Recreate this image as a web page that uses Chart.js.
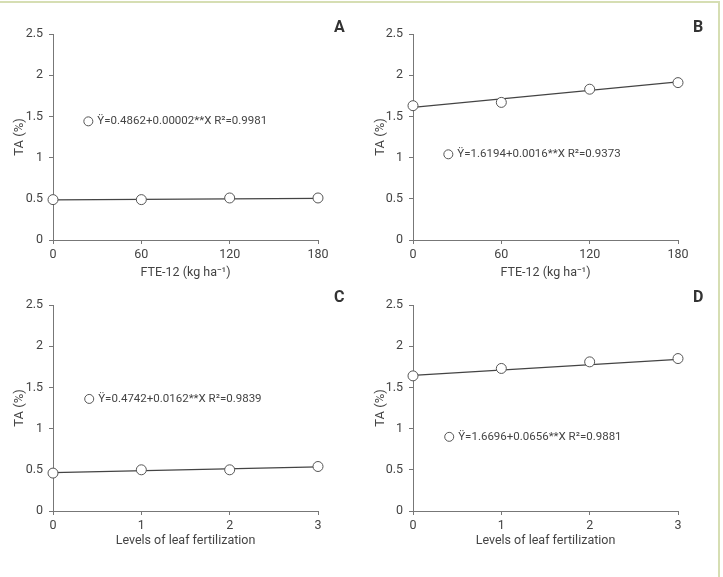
<!DOCTYPE html>
<html>
<head>
<meta charset="utf-8">
<script src="https://cdn.jsdelivr.net/npm/chart.js@4.4.0/dist/chart.umd.min.js"></script>
<style>
  body { margin: 0; background: #fff; }
  #wrap { position: relative; width: 723px; height: 577px; overflow: hidden; }
  #frame { position: absolute; left: -4px; top: 1px; width: 724px; height: 580px;
           border-top: 2px solid #d6deb3; border-right: 2px solid #d6deb3; box-sizing: border-box; }
  canvas { position: absolute; }
  .tag { position: absolute; font: bold 16px Roboto, "Liberation Sans", sans-serif; color: #333; }
</style>
</head>
<body>
<div id="wrap">
  <div id="frame"></div>
  <canvas id="chartA" style="left:0;top:0"></canvas>
  <canvas id="chartB" style="left:361px;top:0"></canvas>
  <canvas id="chartC" style="left:0;top:290px"></canvas>
  <canvas id="chartD" style="left:361px;top:290px"></canvas>
  <div class="tag" style="left:334px;top:17px">A</div>
  <div class="tag" style="left:693px;top:17px">B</div>
  <div class="tag" style="left:334px;top:287px">C</div>
  <div class="tag" style="left:693px;top:287px">D</div>
</div>
<script>
// doses / levels on the x axis
var doseLevels = [0, 60, 120, 180];
var leafLevels = [0, 1, 2, 3];
var yTicks = [0, 0.5, 1, 1.5, 2, 2.5];

// titratable acidity, observed means
var taA = [0.49, 0.49, 0.51, 0.51];
var taB = [1.63, 1.67, 1.83, 1.91];
var taC = [0.46, 0.50, 0.50, 0.54];
var taD = [1.64, 1.73, 1.81, 1.85];

// fitted line, value at first and last x
var fitA = [0.487, 0.505];
var fitB = [1.61, 1.92];
var fitC = [0.465, 0.535];
var fitD = [1.645, 1.84];

var eqA = 'Ÿ=0.4862+0.00002**X R²=0.9981';
var eqB = 'Ÿ=1.6194+0.0016**X R²=0.9373';
var eqC = 'Ÿ=0.4742+0.0162**X R²=0.9839';
var eqD = 'Ÿ=1.6696+0.0656**X R²=0.9881';

var txt = '#444';
var fontFam = 'Roboto, "Liberation Sans", sans-serif';

// draws the little "o equation" note inside the plot
var eqNote = {
  id: 'eqNote',
  afterDatasetsDraw: function(chart, args, opts) {
    var c = chart.ctx;
    var x = chart.scales.x.getPixelForValue(opts.at[0]);
    var y = chart.scales.y.getPixelForValue(opts.at[1]);
    c.save();
    c.beginPath();
    c.arc(x, y, 4.5, 0, Math.PI * 2);
    c.fillStyle = '#fff';
    c.fill();
    c.strokeStyle = '#555';
    c.lineWidth = 1;
    c.stroke();
    c.fillStyle = txt;
    c.font = '11.5px ' + fontFam;
    c.textBaseline = 'middle';
    c.fillText(opts.text, x + 9, y);
    c.restore();
  }
};

function makeChart(id, w, h, xs, ys, fit, xTitle, eq, eqAt, box) {
  var el = document.getElementById(id);
  el.width = w; el.height = h;
  el.style.width = w + 'px'; el.style.height = h + 'px';
  var pts = xs.map(function(v, i) { return { x: v, y: ys[i] }; });
  var line = [{ x: xs[0], y: fit[0] }, { x: xs[xs.length - 1], y: fit[1] }];
  return new Chart(el, {
    type: 'scatter',
    data: {
      datasets: [
        { data: pts, pointRadius: 5, pointBackgroundColor: '#fff', pointBorderColor: '#555',
          pointBorderWidth: 1, showLine: false, clip: false },
        { data: line, showLine: true, pointRadius: 0, borderColor: '#444', borderWidth: 1.2, clip: false }
      ]
    },
    options: {
      responsive: false,
      animation: false,
      layout: { padding: { top: box.top, right: box.right, left: 0, bottom: 0 } },
      plugins: {
        legend: { display: false },
        tooltip: { enabled: false },
        eqNote: { text: eq, at: eqAt }
      },
      scales: {
        x: {
          type: 'linear', min: xs[0], max: xs[xs.length - 1],
          afterBuildTicks: function(s) { s.ticks = xs.map(function(v) { return { value: v }; }); },
          afterFit: function(s) { s.height = box.xh; },
          grid: { drawOnChartArea: false, tickLength: 4, color: '#777' },
          border: { color: '#777' },
          ticks: { color: txt, padding: 3, font: { family: fontFam, size: 12.5 },
                   callback: function(v) { return String(v); } },
          title: { display: true, text: xTitle, color: txt, font: { family: fontFam, size: 12.5 },
                   padding: { top: 0, bottom: box.xtp } }
        },
        y: {
          min: 0, max: 2.5,
          afterBuildTicks: function(s) { s.ticks = yTicks.map(function(v) { return { value: v }; }); },
          afterFit: function(s) { s.width = box.yw; },
          grid: { drawOnChartArea: false, tickLength: 4, color: '#777' },
          border: { color: '#777' },
          ticks: { color: txt, padding: 6, font: { family: fontFam, size: 12.5 },
                   callback: function(v) { return String(v); } },
          title: { display: true, text: 'TA (%)', color: txt, font: { family: fontFam, size: 13 },
                   padding: { top: 12, bottom: 0 } }
        }
      }
    },
    plugins: [eqNote]
  });
}

makeChart('chartA', 361, 290, doseLevels, taA, fitA, 'FTE-12 (kg ha⁻¹)', eqA, [24, 1.44],
  { top: 34, right: 43, yw: 53, xh: 50, xtp: 10 });
makeChart('chartB', 362, 290, doseLevels, taB, fitB, 'FTE-12 (kg ha⁻¹)', eqB, [24, 1.04],
  { top: 34, right: 45, yw: 52, xh: 50, xtp: 10 });
makeChart('chartC', 361, 287, leafLevels, taC, fitC, 'Levels of leaf fertilization', eqC, [0.41, 1.36],
  { top: 15, right: 43, yw: 53, xh: 66, xtp: 29 });
makeChart('chartD', 362, 287, leafLevels, taD, fitD, 'Levels of leaf fertilization', eqD, [0.41, 0.90],
  { top: 15, right: 45, yw: 52, xh: 66, xtp: 29 });
</script>
</body>
</html>
